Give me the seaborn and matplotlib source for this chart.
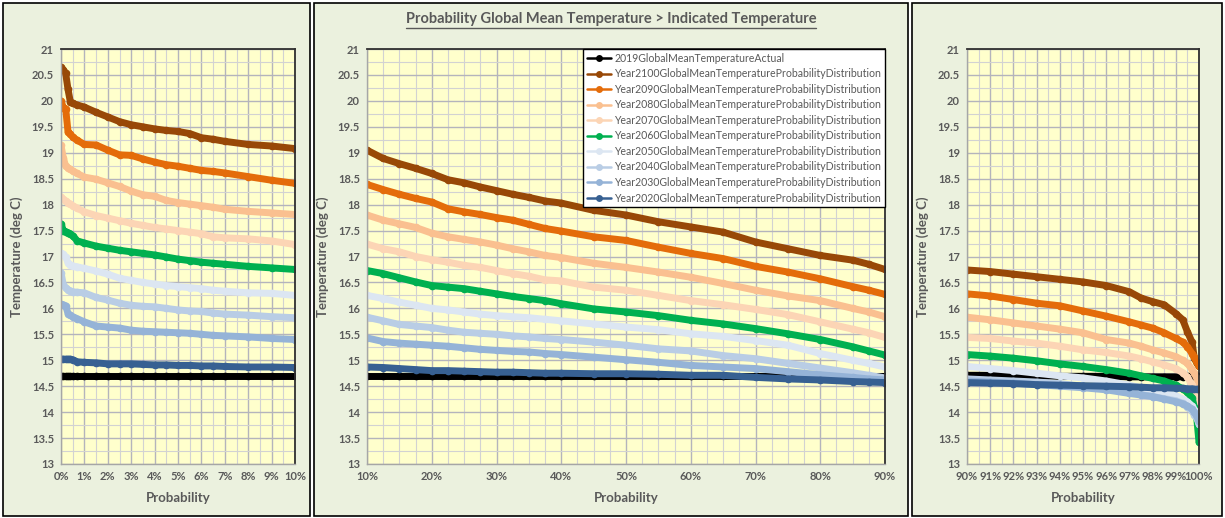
import matplotlib
matplotlib.use("Agg")
import matplotlib.pyplot as plt
import matplotlib.patches as mpatches
from matplotlib.lines import Line2D
from matplotlib.ticker import MultipleLocator, FuncFormatter
import pandas as pd
import seaborn as sns

sns.set_theme(style="white")
plt.rcParams["font.family"] = ["Lato", "DejaVu Sans"]

# Series (legend order = drawing order)
series_names = [
    "2019GlobalMeanTemperatureActual",
    "Year2100GlobalMeanTemperatureProbabilityDistribution",
    "Year2090GlobalMeanTemperatureProbabilityDistribution",
    "Year2080GlobalMeanTemperatureProbabilityDistribution",
    "Year2070GlobalMeanTemperatureProbabilityDistribution",
    "Year2060GlobalMeanTemperatureProbabilityDistribution",
    "Year2050GlobalMeanTemperatureProbabilityDistribution",
    "Year2040GlobalMeanTemperatureProbabilityDistribution",
    "Year2030GlobalMeanTemperatureProbabilityDistribution",
    "Year2020GlobalMeanTemperatureProbabilityDistribution",
]
series_colors = ["#000000", "#984807", "#E46C0A", "#FAC090", "#FCD5B5",
                 "#00B050", "#DCE6F2", "#B9CDE5", "#95B3D7", "#376092"]

# ---- left panel: 0% .. 10%
p1_x = [0, 0.1, 0.2, 0.3, 0.4, 0.5, 0.7, 1, 1.5, 2, 2.5, 3, 3.5, 4, 4.5, 5, 5.5, 6, 6.5, 7, 8, 9, 10]
p1_actual = [14.69, 14.69, 14.69, 14.69, 14.69, 14.69, 14.69, 14.69, 14.69, 14.69, 14.69, 14.69,
             14.69, 14.69, 14.69, 14.69, 14.69, 14.69, 14.69, 14.69, 14.69, 14.69, 14.69]
p1_2100 = [20.65, 20.6, 20.53, 20.22, 19.98, 19.95, 19.92, 19.88, 19.78, 19.69, 19.6, 19.54,
           19.5, 19.46, 19.43, 19.41, 19.37, 19.29, 19.26, 19.22, 19.16, 19.13, 19.08]
p1_2090 = [20.0, 19.87, 19.85, 19.4, 19.36, 19.3, 19.24, 19.16, 19.15, 19.05, 18.96, 18.95,
           18.88, 18.82, 18.77, 18.74, 18.7, 18.66, 18.64, 18.61, 18.54, 18.47, 18.41]
p1_2080 = [19.14, 18.9, 18.74, 18.71, 18.68, 18.65, 18.6, 18.53, 18.49, 18.42, 18.35, 18.26,
           18.19, 18.16, 18.08, 18.04, 18.01, 17.98, 17.95, 17.91, 17.87, 17.84, 17.81]
p1_2070 = [18.14, 18.1, 18.07, 18.04, 18.01, 17.98, 17.93, 17.86, 17.79, 17.74, 17.69, 17.64,
           17.6, 17.56, 17.53, 17.5, 17.47, 17.44, 17.38, 17.36, 17.34, 17.3, 17.23]
p1_2060 = [17.63, 17.5, 17.48, 17.46, 17.44, 17.4, 17.3, 17.26, 17.2, 17.16, 17.12, 17.09,
           17.06, 17.03, 16.99, 16.95, 16.92, 16.89, 16.87, 16.85, 16.81, 16.78, 16.75]
p1_2050 = [17.06, 17.04, 16.99, 16.88, 16.84, 16.82, 16.8, 16.77, 16.72, 16.66, 16.58, 16.54,
           16.5, 16.47, 16.44, 16.42, 16.4, 16.38, 16.35, 16.33, 16.3, 16.29, 16.25]
p1_2040 = [16.69, 16.45, 16.4, 16.36, 16.34, 16.32, 16.31, 16.3, 16.21, 16.16, 16.1, 16.06,
           16.04, 16.03, 16.0, 15.97, 15.95, 15.94, 15.91, 15.89, 15.87, 15.84, 15.82]
p1_2030 = [16.08, 16.07, 16.05, 15.9, 15.87, 15.84, 15.8, 15.74, 15.66, 15.64, 15.62, 15.58,
           15.56, 15.55, 15.54, 15.53, 15.52, 15.5, 15.48, 15.47, 15.45, 15.42, 15.4]
p1_2020 = [15.02, 15.02, 15.02, 15.02, 15.02, 15.01, 14.97, 14.96, 14.95, 14.93, 14.93, 14.93,
           14.92, 14.91, 14.91, 14.9, 14.9, 14.89, 14.89, 14.88, 14.87, 14.87, 14.86]

# ---- middle panel: 10% .. 90%
p2_x = [10, 12.5, 15, 17.5, 20, 22.5, 25, 27.5, 30, 32.5, 35, 37.5, 40, 45, 50, 55, 60, 65, 70, 75, 80, 85, 87.5, 90]
p2_actual = [14.69, 14.69, 14.69, 14.69, 14.69, 14.69, 14.69, 14.69, 14.69, 14.69, 14.69, 14.69,
             14.69, 14.69, 14.69, 14.69, 14.69, 14.69, 14.69, 14.69, 14.69, 14.69, 14.69, 14.69]
p2_2100 = [19.05, 18.89, 18.79, 18.7, 18.6, 18.48, 18.42, 18.34, 18.27, 18.2, 18.14, 18.07,
           18.03, 17.89, 17.8, 17.67, 17.57, 17.47, 17.28, 17.15, 17.02, 16.93, 16.85, 16.75]
p2_2090 = [18.39, 18.29, 18.2, 18.12, 18.05, 17.92, 17.86, 17.81, 17.75, 17.7, 17.62, 17.54,
           17.49, 17.38, 17.31, 17.18, 17.06, 16.96, 16.81, 16.7, 16.57, 16.42, 16.35, 16.27]
p2_2080 = [17.8, 17.7, 17.63, 17.56, 17.45, 17.38, 17.33, 17.28, 17.22, 17.15, 17.09, 17.02,
           16.98, 16.87, 16.79, 16.7, 16.6, 16.48, 16.35, 16.24, 16.15, 16.0, 15.93, 15.84]
p2_2070 = [17.24, 17.15, 17.09, 17.0, 16.94, 16.89, 16.83, 16.79, 16.73, 16.67, 16.62, 16.55,
           16.53, 16.41, 16.35, 16.25, 16.15, 16.07, 15.98, 15.88, 15.74, 15.6, 15.53, 15.44]
p2_2060 = [16.73, 16.67, 16.59, 16.51, 16.44, 16.41, 16.38, 16.33, 16.28, 16.23, 16.19, 16.15,
           16.09, 15.99, 15.93, 15.86, 15.77, 15.7, 15.61, 15.51, 15.4, 15.26, 15.18, 15.1]
p2_2050 = [16.25, 16.19, 16.12, 16.06, 16.0, 15.97, 15.93, 15.89, 15.86, 15.84, 15.82, 15.79,
           15.76, 15.7, 15.64, 15.59, 15.51, 15.46, 15.38, 15.29, 15.13, 15.0, 14.94, 14.87]
p2_2040 = [15.83, 15.76, 15.69, 15.66, 15.63, 15.58, 15.54, 15.52, 15.5, 15.47, 15.45, 15.42,
           15.4, 15.35, 15.29, 15.22, 15.18, 15.09, 15.03, 14.94, 14.85, 14.76, 14.71, 14.66]
p2_2030 = [15.43, 15.36, 15.33, 15.31, 15.29, 15.27, 15.24, 15.21, 15.19, 15.17, 15.16, 15.13,
           15.11, 15.06, 15.01, 14.96, 14.9, 14.87, 14.84, 14.78, 14.72, 14.67, 14.64, 14.62]
p2_2020 = [14.87, 14.86, 14.84, 14.82, 14.8, 14.8, 14.79, 14.78, 14.77, 14.77, 14.76, 14.75,
           14.75, 14.74, 14.74, 14.73, 14.71, 14.71, 14.67, 14.64, 14.62, 14.59, 14.58, 14.57]

# ---- right panel: 90% .. 100%
p3_x = [90, 91, 92, 93, 94, 95, 96, 97, 97.5, 98, 98.5, 99, 99.3, 99.5, 99.7, 99.8, 99.9, 100]
p3_actual = [14.71, 14.71, 14.7, 14.7, 14.69, 14.69, 14.69, 14.68, 14.68, 14.68, 14.68, 14.68,
             14.68, 14.69, 14.69, 14.69, 14.69, 14.69]
p3_2100 = [16.74, 16.71, 16.66, 16.61, 16.56, 16.51, 16.44, 16.32, 16.2, 16.13, 16.07, 15.9,
           15.78, 15.55, 15.35, 15.04, 14.95, 14.88]
p3_2090 = [16.28, 16.24, 16.17, 16.1, 16.05, 15.95, 15.85, 15.74, 15.68, 15.62, 15.53, 15.42,
           15.35, 15.26, 15.13, 15.06, 14.96, 14.89]
p3_2080 = [15.83, 15.78, 15.72, 15.66, 15.6, 15.53, 15.4, 15.33, 15.27, 15.2, 15.14, 15.07,
           15.0, 14.94, 14.82, 14.75, 14.65, 14.55]
p3_2070 = [15.44, 15.42, 15.37, 15.33, 15.27, 15.2, 15.15, 15.08, 15.03, 14.97, 14.91, 14.84,
           14.76, 14.68, 14.52, 14.43, 14.2, 13.8]
p3_2060 = [15.11, 15.08, 15.04, 14.99, 14.93, 14.88, 14.82, 14.75, 14.7, 14.65, 14.6, 14.52,
           14.45, 14.38, 14.28, 14.1, 13.9, 13.42]
p3_2050 = [14.88, 14.84, 14.8, 14.75, 14.7, 14.66, 14.6, 14.52, 14.47, 14.42, 14.37, 14.32,
           14.25, 14.2, 14.12, 14.05, 13.95, 13.78]
p3_2040 = [14.64, 14.62, 14.6, 14.58, 14.55, 14.5, 14.45, 14.38, 14.34, 14.3, 14.26, 14.22,
           14.17, 14.1, 14.02, 13.95, 13.88, 13.78]
p3_2030 = [14.6, 14.58, 14.56, 14.53, 14.5, 14.47, 14.43, 14.36, 14.33, 14.3, 14.25, 14.2,
           14.16, 14.12, 14.06, 14.0, 13.92, 13.82]
p3_2020 = [14.57, 14.56, 14.55, 14.53, 14.52, 14.51, 14.5, 14.49, 14.48, 14.47, 14.47, 14.46,
           14.46, 14.45, 14.45, 14.44, 14.44, 14.44]

panels = [
    (p1_x, [p1_actual, p1_2100, p1_2090, p1_2080, p1_2070, p1_2060, p1_2050, p1_2040, p1_2030, p1_2020],
     (0, 10), 1, 0.5),
    (p2_x, [p2_actual, p2_2100, p2_2090, p2_2080, p2_2070, p2_2060, p2_2050, p2_2040, p2_2030, p2_2020],
     (10, 90), 10, 2.5),
    (p3_x, [p3_actual, p3_2100, p3_2090, p3_2080, p3_2070, p3_2060, p3_2050, p3_2040, p3_2030, p3_2020],
     (90, 100), 1, 0.5),
]

W, H = 1225, 518
text_col = "#595959"
fig = plt.figure(figsize=(12.25, 5.18), dpi=100)
fig.patch.set_facecolor("white")

# panel frames (pixel boxes)
for x0, x1 in [(3, 310), (314, 908), (912, 1222)]:
    fig.patches.append(mpatches.Rectangle((x0 / W, 2 / H), (x1 - x0) / W, 513 / H,
                                          transform=fig.transFigure, facecolor="#EBF1DE",
                                          edgecolor="black", lw=1.2, zorder=-5))

axes_px = [(61, 295), (367, 885), (967, 1199)]
palette = dict(zip(series_names, series_colors))

for i, ((xs, cols, xlim, major, minor), (ax0, ax1)) in enumerate(zip(panels, axes_px)):
    rows = []
    for name, vals in zip(series_names, cols):
        for xv, yv in zip(xs, vals):
            rows.append((xv, yv, name))
    df = pd.DataFrame(rows, columns=["Probability", "Temperature", "Series"])

    ax = fig.add_axes([ax0 / W, (H - 464) / H, (ax1 - ax0) / W, 415 / H])
    ax.set_facecolor("#FFFFCC")
    sns.lineplot(data=df, x="Probability", y="Temperature", hue="Series",
                 hue_order=series_names, palette=palette, estimator=None, sort=False,
                 linewidth=5, marker="o", markersize=5.5, markeredgewidth=0,
                 solid_capstyle="round", solid_joinstyle="round", legend=(i == 1), ax=ax)

    ax.set_xlim(*xlim)
    ax.set_ylim(13, 21)
    ax.xaxis.set_major_locator(MultipleLocator(major))
    ax.xaxis.set_minor_locator(MultipleLocator(minor))
    ax.yaxis.set_major_locator(MultipleLocator(0.5))
    ax.yaxis.set_minor_locator(MultipleLocator(0.25))
    ax.xaxis.set_major_formatter(FuncFormatter(lambda v, p: f"{v:.0f}%"))
    ax.yaxis.set_major_formatter(FuncFormatter(lambda v, p: f"{v:g}"))
    ax.grid(True, which="major", color="#B4B4BC", lw=1.0, zorder=0)
    ax.grid(True, which="minor", color="#D2D2D2", lw=0.8, zorder=0)
    ax.set_axisbelow(True)
    ax.tick_params(which="both", length=0, labelsize=8, labelcolor=text_col, pad=5)
    for lab in ax.get_xticklabels() + ax.get_yticklabels():
        lab.set_fontweight("bold")
    for s in ["top", "right"]:
        ax.spines[s].set_color("#303030")
        ax.spines[s].set_linewidth(1.3)
    for s in ["left", "bottom"]:
        ax.spines[s].set_color("#A6A6A6")
        ax.spines[s].set_linewidth(1.0)
    ax.set_xlabel("Probability", fontsize=9.5, fontweight="bold", color=text_col, labelpad=7)
    ax.set_ylabel("Temperature (deg C)", fontsize=9.5, fontweight="bold", color=text_col, labelpad=6)

    if i == 1:
        handles, labels = ax.get_legend_handles_labels()
        for h in handles:
            h.set_linewidth(1.8)
            h.set_markersize(5)
        leg = ax.legend(handles, labels, loc="upper right", bbox_to_anchor=(1.0, 1.0),
                        borderaxespad=0, frameon=True, fancybox=False, fontsize=7.6,
                        handlelength=2.3, handletextpad=0.3, labelspacing=0.43,
                        borderpad=0.35, labelcolor=text_col)
        leg.get_frame().set_edgecolor("black")
        leg.get_frame().set_linewidth(1.0)
        leg.get_frame().set_facecolor("white")
        leg.get_frame().set_alpha(1)

title = fig.text(611 / W, 1 - 19 / H, "Probability Global Mean Temperature > Indicated Temperature",
                 ha="center", va="center", fontsize=10.5, fontweight="bold", color=text_col)

# underline the title
fig.canvas.draw()
bb = title.get_window_extent().transformed(fig.transFigure.inverted())
fig.lines.append(Line2D([bb.x0, bb.x1], [bb.y0 - 0.003, bb.y0 - 0.003], transform=fig.transFigure,
                        color=text_col, lw=1.0))

fig.savefig("out.png", dpi=100)
